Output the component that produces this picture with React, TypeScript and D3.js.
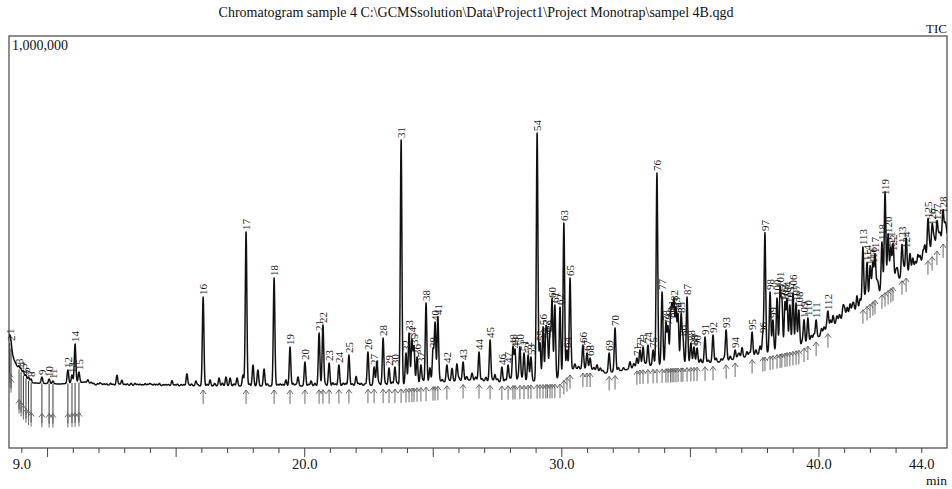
import React, { useMemo } from 'react';
import * as d3 from 'd3';

// ---------- DATA ----------
const titleText = 'Chromatogram sample 4 C:\\GCMSsolution\\Data\\Project1\\Project Monotrap\\sampel 4B.qgd';
const yMaxLabel = '1,000,000';
const xTickLabels = [9, 20, 30, 40, 44];

// baseline (retention time in min, intensity)
const baselineTimes = [8.5, 8.6, 8.69, 8.85, 9.01, 9.2, 9.39, 10.48, 11.46, 11.85, 15.93, 19.82, 23.71, 26.43, 27.6, 29.93, 30.4, 31.1, 31.68, 32.46, 33.04, 36.16, 36.93, 37.71, 39.27, 40.04, 40.82, 41.6, 42.38, 43.16, 43.74, 44.32, 45.0];
const baselineValues = [262000, 236000, 215000, 194000, 180000, 165000, 158000, 155300, 160200, 152900, 150500, 150500, 152900, 165000, 160200, 165000, 191700, 191700, 182000, 189300, 199000, 208700, 218400, 228100, 247600, 271800, 310700, 339800, 378600, 412600, 436900, 468400, 517000];

// labelled peaks
const peakLabels = Array.from({ length: 128 }, (_, i) => String(i + 1));
const peakTimes = [
  8.53, 8.58, 8.89, 8.97, 9.06, 9.16, 9.26, 9.36, 9.78, 10.06,
  10.21, 10.79, 10.95, 11.07, 11.22, 16.05, 17.72, 18.81, 19.43, 20.01,
  20.56, 20.71, 20.95, 21.33, 21.72, 22.46, 22.70, 23.05, 23.28, 23.51,
  23.75, 23.94, 24.06, 24.17, 24.25, 24.37, 24.52, 24.72, 24.99, 25.07,
  25.18, 25.53, 26.16, 26.78, 27.21, 27.67, 27.91, 28.10, 28.18, 28.37,
  28.53, 28.69, 28.80, 29.04, 29.15, 29.27, 29.38, 29.44, 29.54, 29.62,
  29.73, 29.93, 30.08, 30.20, 30.32, 30.82, 30.98, 31.10, 31.84, 32.07,
  32.92, 33.04, 33.16, 33.35, 33.55, 33.70, 33.90, 34.05, 34.13, 34.23,
  34.29, 34.36, 34.44, 34.52, 34.64, 34.71, 34.87, 35.02, 35.14, 35.26,
  35.57, 35.88, 36.39, 36.74, 37.40, 37.82, 37.90, 38.10, 38.21, 38.37,
  38.49, 38.56, 38.68, 38.76, 38.87, 38.99, 39.11, 39.22, 39.42, 39.57,
  39.89, 40.35, 41.71, 41.87, 41.99, 42.10, 42.18, 42.45, 42.57, 42.69,
  42.80, 42.88, 43.23, 43.39, 44.24, 44.40, 44.59, 44.83,
];
const peakApex = [
  271800, 254800, 199000, 191700, 186900, 177200, 172300, 167500, 172300, 167500,
  162600, 189300, 177200, 252400, 184500, 366500, 524200, 412600, 245100, 208700,
  279100, 298500, 206300, 201400, 225700, 233000, 196600, 267000, 194200, 196600,
  747500, 230600, 279100, 262100, 245100, 220900, 201400, 351900, 237800, 303400,
  317900, 201400, 208700, 233000, 262100, 196600, 201400, 245100, 237800, 245100,
  230600, 225700, 220900, 764500, 254800, 293700, 279100, 262100, 279100, 359200,
  347100, 342200, 546100, 237800, 412600, 250000, 230600, 218400, 230600, 291200,
  218400, 237800, 245100, 250000, 237800, 667400, 378600, 303400, 293700, 310700,
  327600, 351900, 334900, 322800, 322800, 267000, 366500, 254800, 245100, 242700,
  269400, 274300, 286400, 237800, 281500, 274300, 521800, 378600, 310700, 364100,
  383500, 354300, 351900, 359200, 347100, 376200, 351900, 334900, 310700, 315500,
  310700, 330100, 487800, 449000, 439300, 444100, 468400, 500000, 609200, 517000,
  480500, 473300, 492700, 480500, 553400, 536400, 548500, 565500,
];

// unlabelled minor peaks (time, height above baseline)
const minorTimes = [
  11.57, 11.7, 11.95, 12.04, 12.2, 12.45, 12.70, 12.89, 13.1, 13.25, 13.40, 13.6, 13.8, 13.98,
  14.15, 14.35, 14.6, 14.84, 15.05, 15.2, 15.42, 15.6, 15.77, 16.32, 16.5, 16.67, 16.8, 16.94,
  17.10, 17.37, 17.60, 17.99, 18.18, 18.42, 19.05, 19.27, 19.55, 19.74, 20.25, 20.4, 21.1, 21.5,
  22.00, 22.2, 22.81, 23.4, 24.6, 24.87, 25.35, 25.73, 25.92, 26.0, 26.3, 26.51, 26.65, 27.05,
  27.40, 27.5, 28.0, 28.3, 30.51, 31.37, 31.5, 32.2, 32.65, 32.8, 35.4, 36.0, 36.55, 37.01,
  37.2, 37.71, 39.7, 40.2, 40.55, 40.7, 40.94, 41.1, 41.21, 41.35, 41.48, 42.3, 42.9, 42.99,
  43.4, 43.54, 43.85, 43.93, 44.12, 44.45, 44.71, 44.94,
  11.8, 12.1, 12.3, 12.55, 12.8, 13.0, 13.5, 13.7, 13.9, 14.05, 14.25, 14.5, 14.7, 14.95,
  15.3, 15.5, 15.85, 16.2, 17.25, 17.85, 18.55, 18.95, 19.15, 19.65, 20.15, 20.8, 21.2, 21.6,
  21.85, 22.1, 22.35, 22.9, 23.15, 23.6, 25.25, 25.6, 26.9, 27.3, 27.8, 28.45, 29.85, 30.65,
  31.25, 31.6, 32.4, 33.25, 35.7, 36.2, 36.85,
  36.3, 36.9, 37.3, 37.55, 39.35, 39.8, 40.1, 40.3, 40.45, 40.8, 41.0, 41.3, 41.6, 41.8,
  42.05, 42.25, 42.6, 42.75, 43.05, 43.3, 43.65, 43.75, 44.05, 44.3, 44.5, 44.65, 44.8, 44.9,
];
const minorHeights = [
  7300, 4000, 3500, 4900, 3000, 4500, 24300, 12100, 3500, 5000, 4900, 3000, 4500, 4900,
  3500, 5000, 3000, 12100, 4000, 3000, 29100, 4500, 12100, 14600, 6000, 19400, 7000, 21800,
  19400, 19400, 26700, 51000, 38800, 41300, 5000, 14600, 6000, 21800, 12100, 6000, 7000, 6000,
  21800, 5000, 58200, 7000, 8000, 36400, 6000, 31600, 41300, 7000, 9000, 17000, 8000, 9000,
  17000, 7000, 8000, 9000, 12100, 14600, 9000, 8000, 17000, 10000, 9000, 10000, 9000, 24300,
  12000, 19400, 12000, 14000, 24300, 16000, 29100, 20000, 24300, 18000, 34000, 22000, 26000, 24300,
  30000, 43700, 26000, 19400, 34000, 28000, 24300, 19400,
  3000, 2500, 3000, 2500, 3000, 2500, 3000, 2000, 3000, 2500, 3000, 2500, 3000, 2500,
  3000, 2500, 3000, 4000, 5000, 5000, 5000, 4000, 4000, 4000, 4000, 5000, 4000, 5000,
  4000, 5000, 4000, 5000, 4000, 5000, 5000, 5000, 5000, 5000, 6000, 6000, 6000, 6000,
  6000, 5000, 6000, 6000, 6000, 7000, 7000,
  8000, 10000, 9000, 12000, 9000, 12000, 15000, 10000, 18000, 14000, 20000, 16000, 22000, 18000,
  20000, 25000, 20000, 22000, 26000, 20000, 28000, 15000, 24000, 26000, 20000, 22000, 18000, 26000,
];

// ---------- CHART ----------
const W = 952;
const H = 489;
const L = 9, R = 947, T = 36, B = 448;
const FONT = '"Liberation Serif", "Times New Roman", serif';

export default function App() {
  const x = d3.scaleLinear().domain([8.5, 45]).range([L, R + 0.5]);
  const y = d3.scaleLinear().domain([0, 1000000]).range([B, T]);
  const base = d3.scaleLinear().domain(baselineTimes).range(baselineValues).clamp(true);

  const { tracePath, peaks } = useMemo(() => {
    const sigma = 0.03;
    const peaks = peakTimes.map((t, i) => ({ t, label: peakLabels[i], apex: peakApex[i], h: peakApex[i] - base(t) }));
    const minors = minorTimes.map((t, i) => ({ t, h: minorHeights[i] }));
    const all = [...peaks.map(p => ({ t: p.t, h: p.h })), ...minors];
    const ts = d3.range(8.5, 44.99, 0.008).concat(all.map(p => p.t)).sort(d3.ascending);
    const sig = (t: number) => {
      let v = base(t);
      for (const p of all) {
        const d = t - p.t;
        if (Math.abs(d) < 0.2) v += p.h * Math.exp(-0.5 * (d / sigma) * (d / sigma));
      }
      return v;
    };
    const line = d3.line<number>().x(t => x(t)).y(t => y(sig(t)));
    return { tracePath: line(ts) || '', peaks };
  }, []);

  const ticks = d3.range(9, 45, 1);

  return (
    <svg width={W} height={H} style={{ position: 'absolute', left: 0, top: 0, background: '#fff' }} fontFamily={FONT}>
      <rect x={0} y={0} width={W} height={H} fill="#fff" />
      <text x={476} y={17} textAnchor="middle" fontSize={14} fill="#111">{titleText}</text>
      <text x={R} y={33} textAnchor="end" fontSize={13} fill="#111">TIC</text>
      <defs>
        <clipPath id="plotclip"><rect x={L} y={T} width={R - L} height={B - T} /></clipPath>
      </defs>
      {/* frame */}
      <rect x={L} y={T} width={R - L} height={B - T} fill="none" stroke="#444" strokeWidth={1.2} />
      <text x={L + 3} y={T + 14} fontSize={14} fill="#111">{yMaxLabel}</text>

      <g clipPath="url(#plotclip)">
        {/* arrows and drop lines */}
        {peaks.map((p, i) => {
          const px = x(p.t);
          const by = y(base(p.t));
          const deep = p.t < 11.5;
          const tip = by + (deep ? 30 : 4);
          const tail = tip + 14;
          return (
            <g key={'a' + i}>
              {deep && <line x1={px} x2={px} y1={by} y2={tip + 10} stroke="#222" strokeWidth={0.9} />}
              <path d={`M${px},${tail} L${px},${tip} M${px - 3},${tip + 4} L${px},${tip} L${px + 3},${tip + 4}`} fill="none" stroke="#6a6a6a" strokeWidth={1} />
            </g>
          );
        })}
        <path d={tracePath} fill="none" stroke="#111" strokeWidth={1.5} strokeLinejoin="round" />
      </g>

      {/* peak labels */}
      {peaks.map((p, i) => {
        const px = x(p.t);
        const py = y(p.apex) - 2;
        return (
          <text key={'l' + i} x={px} y={py} transform={`rotate(-90 ${px} ${py})`} fontSize={11} dominantBaseline="central" fill="#1a1a1a">{p.label}</text>
        );
      })}

      {/* x axis ticks */}
      {ticks.map(t => (
        <line key={'t' + t} x1={x(t)} x2={x(t)} y1={B} y2={B + (t % 5 === 0 ? 9 : 5)} stroke="#444" strokeWidth={1} />
      ))}
      {xTickLabels.map(t => (
        <text key={'tl' + t} x={x(t)} y={469} textAnchor="middle" fontSize={14.5} fill="#111">{t.toFixed(1)}</text>
      ))}
      <text x={R} y={485} textAnchor="end" fontSize={13.5} fill="#111">min</text>
    </svg>
  );
}
